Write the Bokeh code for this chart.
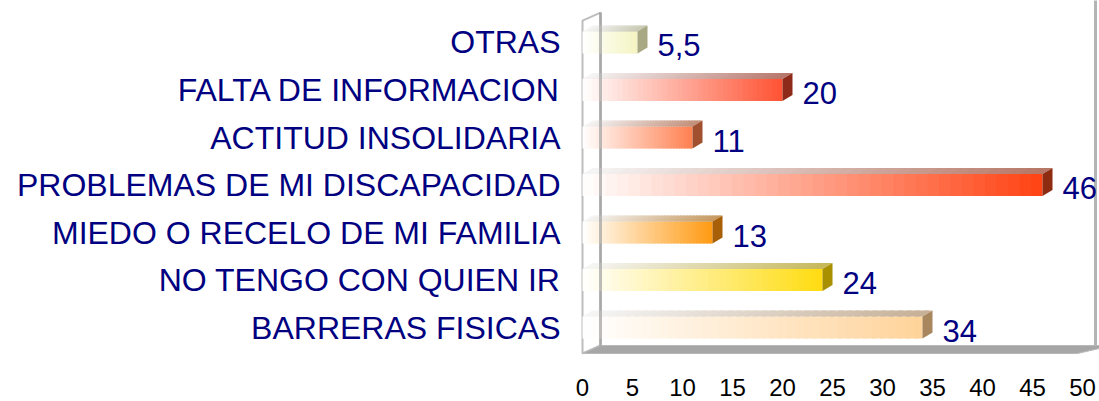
from bokeh.plotting import figure
from bokeh.models import Range1d, FixedTicker, ColumnDataSource
from bokeh.core.properties import value
from bokeh.embed import file_html
from bokeh.resources import INLINE

# ---- data ----
categories = ["BARRERAS FISICAS", "NO TENGO CON QUIEN IR", "MIEDO O RECELO DE MI FAMILIA",
              "PROBLEMAS DE MI DISCAPACIDAD", "ACTITUD INSOLIDARIA", "FALTA DE INFORMACION", "OTRAS"]
values = [34, 24, 13, 46, 11, 20, 5.5]
value_labels = ["34", "24", "13", "46", "11", "20", "5,5"]
end_colors = ["#FFD39A", "#FFDC10", "#FF9A12", "#FF4212", "#FF8050", "#FF5232", "#F4F4C2"]
cap_colors = ["#A8865E", "#A89000", "#A86008", "#8E2C12", "#A0502E", "#8E2A1A", "#A8A884"]
x_ticks = [0, 5, 10, 15, 20, 25, 30, 35, 40, 45, 50]

# ---- style / geometry ----
W, H = 1099, 401
BAR_H = 0.46
DX, DY = 1.0, 0.126
N = 40
NAVY = "#000080"
FONT = "Liberation Sans"


def hex2rgb(h):
    h = h.lstrip("#")
    return tuple(int(h[i:i + 2], 16) for i in (0, 2, 4))


def mix(c1, c2, t):
    a, b = hex2rgb(c1), hex2rgb(c2)
    return "#%02x%02x%02x" % tuple(int(round(a[i] * (1 - t) + b[i] * t)) for i in range(3))


p = figure(width=W, height=H, output_backend="svg", toolbar_location=None,
           x_range=Range1d(-1.2, 51.7), y_range=Range1d(-0.568, 6.884),
           min_border_left=570, min_border_right=0, min_border_top=0, min_border_bottom=47)
p.outline_line_color = None
p.grid.visible = False
p.background_fill_color = "white"
p.border_fill_color = "white"

# walls and floor
p.patch([0, 0, 1.8, 1.8], [-0.547, 6.46, 6.63, -0.379], fill_color="white",
        line_color="#bdbdbd", line_width=2)
p.line([51.3, 51.3], [-0.379, 6.9], line_color="#b4b4b4", line_width=3)
p.patch([0, 1.8, 53.0, 49.5], [-0.547, -0.379, -0.379, -0.547], fill_color="#a6a6a6",
        line_color="#b8b8b8", line_width=1)

# bars with gradient
fq = dict(left=[], right=[], top=[], bottom=[], color=[])
tp = dict(xs=[], ys=[], color=[])
caps = dict(xs=[], ys=[], color=[])
for i, (v, ec, cc) in enumerate(zip(values, end_colors, cap_colors)):
    top, bot = i + BAR_H / 2, i - BAR_H / 2
    top_end = mix(cc, "#ffffff", 0.35)
    for k in range(N):
        x0, x1 = v * k / N, min(v, v * (k + 1.6) / N)
        t = (k + 0.5) / N
        fq["left"].append(x0); fq["right"].append(x1)
        fq["top"].append(top); fq["bottom"].append(bot)
        fq["color"].append(mix("#ffffff", ec, t))
        tp["xs"].append([x0, x0 + DX, x1 + DX, x1])
        tp["ys"].append([top, top + DY, top + DY, top])
        tp["color"].append(mix("#f6f6f6", top_end, t))
    caps["xs"].append([v, v, v + DX, v + DX])
    caps["ys"].append([bot, top, top + DY, bot + DY])
    caps["color"].append(cc)

p.quad(left="left", right="right", top="top", bottom="bottom", source=ColumnDataSource(fq),
       fill_color="color", line_color=None)
p.patches(xs="xs", ys="ys", source=ColumnDataSource(tp), fill_color="color", line_color=None)
p.patches(xs="xs", ys="ys", source=ColumnDataSource(caps), fill_color="color", line_color=None)

# inner wall edge, seen through the pale start of the bars
p.line([1.8, 1.8], [-0.379, 6.63], line_color="#a0a0a0", line_width=3, line_alpha=0.7)

# value labels
lab = ColumnDataSource(dict(x=[v + DX for v in values], y=list(range(len(values))), t=value_labels))
p.text(x="x", y="y", text="t", source=lab, x_offset=10, y_offset=3,
       text_font=value(FONT), text_font_size="31px", text_color=NAVY,
       text_baseline="middle", text_align="left")

# axes
p.yaxis.ticker = FixedTicker(ticks=list(range(len(categories))))
p.yaxis.major_label_overrides = {i: c for i, c in enumerate(categories)}
p.yaxis.major_label_text_font = FONT
p.yaxis.major_label_text_font_size = "32px"
p.yaxis.major_label_text_color = NAVY
p.yaxis.major_label_standoff = 10
p.yaxis.axis_line_color = None
p.yaxis.major_tick_line_color = None
p.yaxis.minor_tick_line_color = None
p.yaxis.major_tick_out = 0
p.yaxis.major_tick_in = 0

p.xaxis.ticker = FixedTicker(ticks=x_ticks)
p.xaxis.major_label_text_font = FONT
p.xaxis.major_label_text_font_size = "24px"
p.xaxis.major_label_text_color = "black"
p.xaxis.major_label_standoff = 24
p.xaxis.axis_line_color = None
p.xaxis.major_tick_line_color = None
p.xaxis.minor_tick_line_color = None
p.xaxis.major_tick_out = 0
p.xaxis.major_tick_in = 0

open("out.html", "w").write(file_html(p, INLINE))
